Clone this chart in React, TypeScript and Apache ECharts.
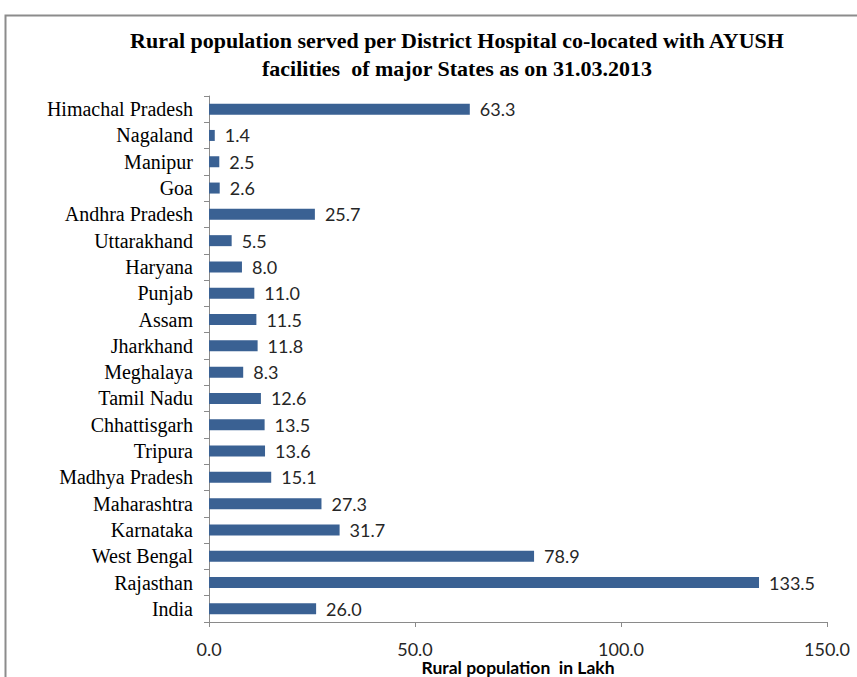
import React, { useEffect, useRef } from "react";
import * as echarts from "echarts";

const categories = [
  "Himachal Pradesh", "Nagaland", "Manipur", "Goa", "Andhra Pradesh", "Uttarakhand",
  "Haryana", "Punjab", "Assam", "Jharkhand", "Meghalaya", "Tamil Nadu", "Chhattisgarh",
  "Tripura", "Madhya Pradesh", "Maharashtra", "Karnataka", "West Bengal", "Rajasthan", "India",
];
const values = [
  63.3, 1.4, 2.5, 2.6, 25.7, 5.5, 8.0, 11.0, 11.5, 11.8, 8.3, 12.6, 13.5, 13.6, 15.1,
  27.3, 31.7, 78.9, 133.5, 26.0,
];
const titleText =
  "Rural population served per District Hospital co-located with AYUSH\nfacilities  of major States as on 31.03.2013";
const axisTitle = "Rural population  in Lakh";

export default function App() {
  const ref = useRef<HTMLDivElement>(null);
  useEffect(() => {
    const chart = echarts.init(ref.current!, null, { renderer: "svg" });
    chart.setOption({
      animation: false,
      backgroundColor: "#ffffff",
      title: {
        text: titleText,
        left: 452,
        textAlign: "center",
        top: 21,
        textStyle: {
          fontFamily: "Liberation Serif",
          fontWeight: "bold",
          fontSize: 22,
          lineHeight: 28,
          color: "#000",
        },
      },
      graphic: [
        {
          type: "rect",
          shape: { x: 5.5, y: 15.5, width: 900, height: 700 },
          style: { fill: "none", stroke: "#8c8c8c", lineWidth: 2 },
          silent: true,
        },
      ],
      grid: {
        left: 209,
        right: 30,
        top: 96,
        bottom: 55,
        containLabel: false,
        outerBoundsMode: "none",
      },
      xAxis: {
        type: "value",
        min: 0,
        max: 150,
        interval: 50,
        name: axisTitle,
        nameLocation: "middle",
        nameGap: 37,
        nameMoveOverlap: false,
        nameTextStyle: {
          fontFamily: "Lato",
          fontWeight: "bold",
          fontSize: 17.5,
          lineHeight: 17,
          color: "#000",
        },
        axisLine: { show: true, lineStyle: { color: "#8a8a8a", width: 1 } },
        axisTick: { show: true, length: 5, lineStyle: { color: "#8a8a8a" } },
        splitLine: { show: false },
        axisLabel: {
          margin: 18,
          fontFamily: "Lato",
          fontSize: 18,
          lineHeight: 18,
          color: "#262626",
          formatter: (v: number) => v.toFixed(1),
        },
      },
      yAxis: {
        type: "category",
        data: categories,
        inverse: true,
        axisLine: { show: true, lineStyle: { color: "#8a8a8a", width: 1 } },
        axisTick: { show: true, length: 5, lineStyle: { color: "#8a8a8a" } },
        axisLabel: {
          interval: 0,
          margin: 16,
          fontFamily: "Liberation Serif",
          fontSize: 20,
          color: "#000",
        },
      },
      series: [
        {
          type: "bar",
          data: values,
          barWidth: 11,
          itemStyle: { color: "#3A6193" },
          label: {
            show: true,
            position: "right",
            distance: 10,
            fontFamily: "Lato",
            fontSize: 18,
            color: "#262626",
            formatter: (p: any) => Number(p.value).toFixed(1),
          },
        },
      ],
    });
    return () => chart.dispose();
  }, []);
  return (
    <div
      ref={ref}
      style={{ position: "fixed", left: 0, top: 0, width: 857, height: 677 }}
    />
  );
}
